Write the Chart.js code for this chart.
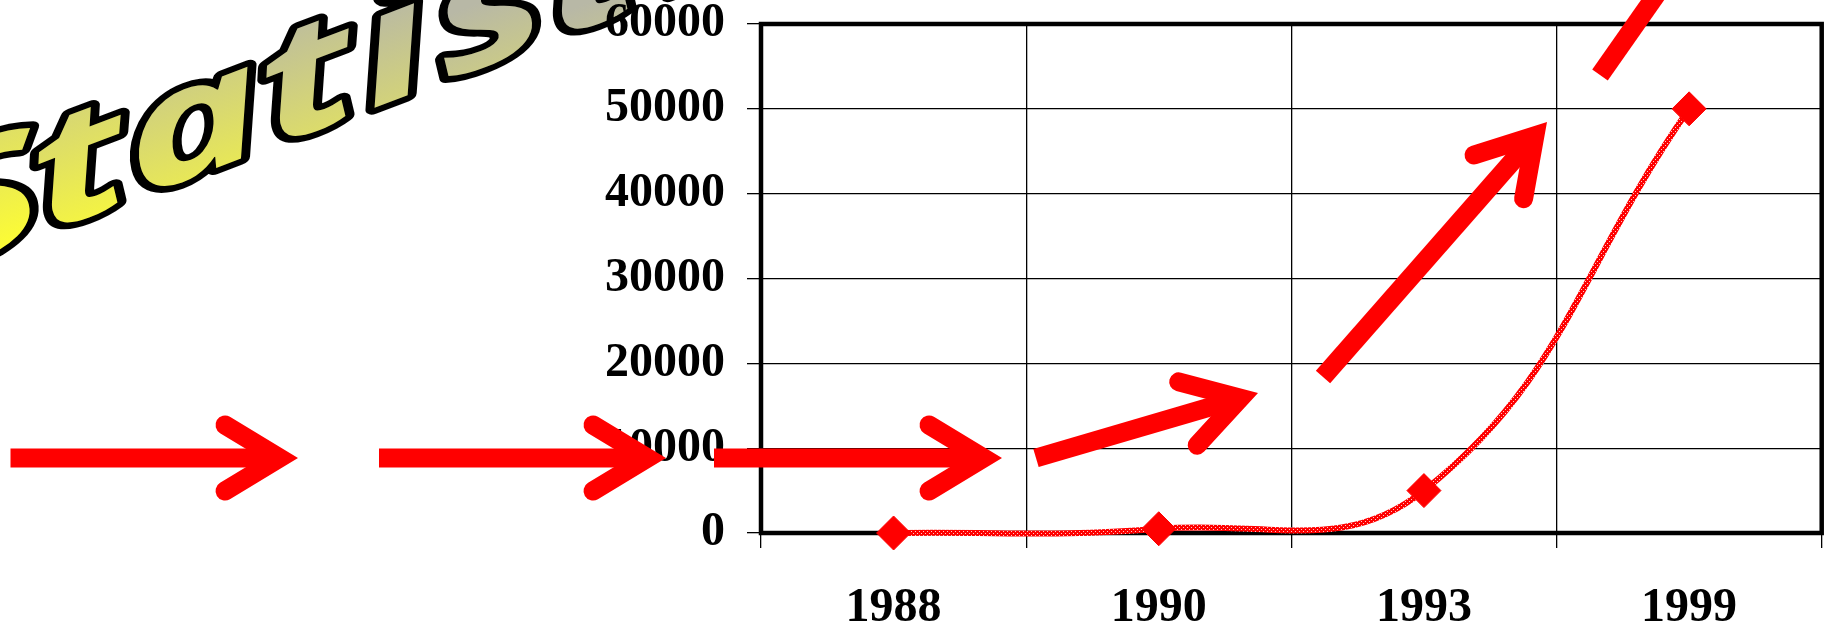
<!DOCTYPE html>
<html><head><meta charset="utf-8">
<script src="https://cdn.jsdelivr.net/npm/chart.js@4/dist/chart.umd.min.js"></script>
<style>html,body{margin:0;padding:0;background:#fff;overflow:hidden}canvas{display:block}</style>
</head><body>
<canvas id="c" width="1830" height="626"></canvas>
<script>
// ---- data ----
const categories = ['1988', '1990', '1993', '1999'];
const values = [0, 500, 5000, 50000];
const yTicks = [0, 10000, 20000, 30000, 40000, 50000, 60000];
const titleWord = 'Statistics';

// ---- patterned line colour ----
function makePattern() {
  const pc = document.createElement('canvas');
  pc.width = 4; pc.height = 4;
  const p = pc.getContext('2d');
  p.fillStyle = '#ff0000'; p.fillRect(0, 0, 4, 4);
  p.fillStyle = '#ffc8c8';
  p.fillRect(1, 1, 1, 1); p.fillRect(3, 3, 1, 1);
  return p.createPattern(pc, 'repeat');
}

const frame = {
  id: 'frame',
  beforeDatasetsDraw(chart) {
    const { ctx, chartArea: a } = chart;
    ctx.save();
    ctx.strokeStyle = '#000'; ctx.lineWidth = 4.5;
    ctx.strokeRect(a.left, a.top, a.right - a.left, a.bottom - a.top);
    ctx.restore();
  }
};

function drawArrow(ctx, tx, ty, ax, ay, w) {
  const dx = ax - tx, dy = ay - ty, L = Math.hypot(dx, dy);
  const ux = dx / L, uy = dy / L, nx = -uy, ny = ux;
  const P = (u, v) => [ax + u * ux + v * nx, ay + u * uy + v * ny];
  const endU = -73, endV = 33;
  let p = 18;
  for (let i = 0; i < 20; i++) { const al = Math.atan2(endV, -endU - p); p = (w / 2) / Math.sin(al); }
  ctx.strokeStyle = '#ff0000'; ctx.lineWidth = w;
  ctx.lineCap = 'butt';
  ctx.beginPath(); ctx.moveTo(tx, ty); ctx.lineTo(...P(-p, 0)); ctx.stroke();
  ctx.lineCap = 'round'; ctx.lineJoin = 'miter'; ctx.miterLimit = 10;
  ctx.beginPath(); ctx.moveTo(...P(endU, -endV)); ctx.lineTo(...P(-p, 0)); ctx.lineTo(...P(endU, endV)); ctx.stroke();
}

const wordArt = {
  id: 'wordArt',
  beforeDraw(chart) {
    const ctx = chart.ctx;
    ctx.save();
    const xs = [-8, 90, 204, 318, 404, 500, 600, 700, 800, 910];
    const slope = -0.38, f0 = 250, sx = 1.5, skew = 0.24;
    ctx.font = 'italic bold 150px "Open Sans", "DejaVu Sans", sans-serif';
    ctx.textAlign = 'center'; ctx.textBaseline = 'alphabetic';
    ctx.lineJoin = 'round';
    for (let i = 0; i < titleWord.length; i++) {
      const cx = xs[i], by = f0 + slope * cx;
      ctx.setTransform(sx, slope * sx, skew, 1, cx, by);
      const g = ctx.createLinearGradient(0, 262 - by, 0, -by);
      g.addColorStop(0, '#ffff30'); g.addColorStop(1, '#b8b8a6');
      ctx.lineWidth = 12; ctx.strokeStyle = '#000';
      ctx.strokeText(titleWord[i], 0, 0);
      ctx.fillStyle = g;
      ctx.fillText(titleWord[i], 0, 0);
    }
    ctx.restore();
  }
};

const arrows = {
  id: 'arrows',
  afterDraw(chart) {
    const ctx = chart.ctx;
    ctx.save();
    drawArrow(ctx, 10.5, 458, 298, 458, 19);
    drawArrow(ctx, 379, 458, 666, 458, 19);
    drawArrow(ctx, 714, 458, 1002, 458, 19);
    drawArrow(ctx, 1036, 458, 1258, 393, 19);
    drawArrow(ctx, 1323, 377, 1547, 122, 19);
    drawArrow(ctx, 1600, 75, 1795, -203, 19);
    ctx.restore();
  }
};

const tickFont = { family: '"Liberation Serif", "Times New Roman", serif', weight: 'bold', size: 48, lineHeight: 1 };
function zeroPad(s) { s.paddingTop = 0; s.paddingBottom = 0; s.paddingLeft = 0; s.paddingRight = 0; }

new Chart(document.getElementById('c'), {
  type: 'line',
  data: {
    labels: categories,
    datasets: [{
      data: values,
      borderColor: makePattern(),
      borderWidth: 6,
      tension: 0.42,
      cubicInterpolationMode: 'default',
      pointStyle: 'rectRot',
      pointRadius: 17,
      pointBorderWidth: 1,
      pointBackgroundColor: '#ff0000',
      pointBorderColor: '#ff0000',
      clip: false,
      fill: false
    }]
  },
  options: {
    responsive: false,
    animation: false,
    devicePixelRatio: 1,
    events: [],
    elements: { line: { capBezierPoints: false } },
    layout: { autoPadding: false, padding: { left: 0, top: 24, right: 8.3, bottom: 0 } },
    plugins: { legend: { display: false }, tooltip: { enabled: false }, title: { display: false } },
    scales: {
      x: {
        offset: true,
        grid: { offset: true, color: '#000', lineWidth: 1.3, tickLength: 15, tickColor: '#000', tickWidth: 1.3 },
        border: { display: false },
        ticks: { font: tickFont, color: '#000', padding: 37, maxRotation: 0 },
        afterFit(s) { s.height = 626 - 533; zeroPad(s); }
      },
      y: {
        min: yTicks[0], max: yTicks[yTicks.length - 1],
        grid: { color: '#000', lineWidth: 1.3, tickLength: 14, tickColor: '#000', tickWidth: 1.3 },
        border: { display: false },
        ticks: { stepSize: yTicks[1] - yTicks[0], font: tickFont, color: '#000', padding: 22, callback: v => String(v) },
        afterFit(s) { s.width = 761; zeroPad(s); }
      }
    }
  },
  plugins: [wordArt, frame, arrows]
});
</script>
</body></html>
